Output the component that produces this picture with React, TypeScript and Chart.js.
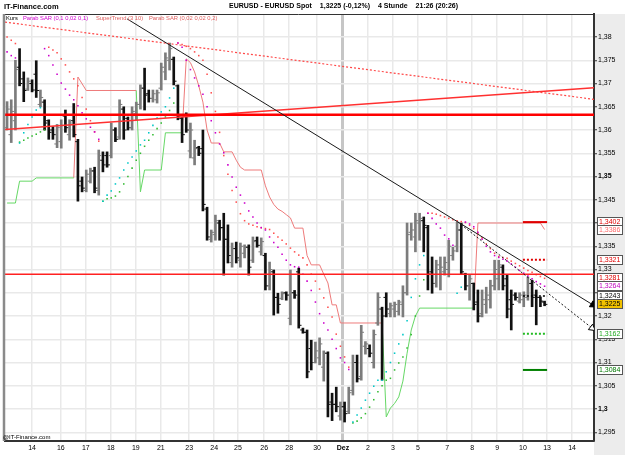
import React, { useEffect, useRef } from 'react';
import { Chart, registerables } from 'chart.js';

Chart.register(...registerables);

const FONT = '"Liberation Sans", Arial, Helvetica, sans-serif';

// ---------- axis ----------
const X_MIN = 0;
const X_MAX = 141.36;
const Y_MIN = 1.29312;
const Y_MAX = 1.38495;
const dayTickPos = [6.5, 13.4, 19.4, 25.4, 31.4, 37.4, 44.2, 50.2, 55.9, 62.2, 68.2, 74.9, 81.1, 87.1, 93.1, 99.1, 106.1, 112.1, 118.1, 124.3, 130.1, 136.1];
const dayTickLabels = ['14', '16', '17', '18', '19', '21', '23', '24', '25', '26', '28', '30', 'Dez', '2', '3', '5', '7', '8', '9', '10', '13', '14'];
const DEZ_INDEX = 12;
const yTickValues = [1.295, 1.3, 1.305, 1.31, 1.315, 1.32, 1.325, 1.33, 1.335, 1.34, 1.345, 1.35, 1.355, 1.36, 1.365, 1.37, 1.375, 1.38];
const yBoldTicks = [1.3, 1.35];

// ---------- 4h OHLC (EUR/USD) ----------
const barOpen = [
  1.3605, 1.3590, 1.3620, 1.3735, 1.3710, 1.3688, 1.3700, 1.3720, 1.3655, 1.3660,
  1.3620, 1.3600, 1.3570, 1.3575, 1.3630, 1.3590, 1.3620, 1.3575, 1.3490, 1.3470,
  1.3490, 1.3512, 1.3470, 1.3535, 1.3545, 1.3545, 1.3600, 1.3585, 1.3645, 1.3625,
  1.3605, 1.3635, 1.3655, 1.3690, 1.3678, 1.3668, 1.3665, 1.3690, 1.3725, 1.3750,
  1.3752, 1.3695, 1.3625, 1.3630, 1.3555, 1.3540, 1.3562, 1.3560, 1.3430, 1.3365,
  1.3375, 1.3400, 1.3390, 1.3365, 1.3315, 1.3345, 1.3320, 1.3335, 1.3348, 1.3320,
  1.3362, 1.3338, 1.3330, 1.3265, 1.3295, 1.3240, 1.3238, 1.3250, 1.3195, 1.3250,
  1.3295, 1.3170, 1.3165, 1.3130, 1.3100, 1.3110, 1.3090, 1.3120, 1.3015, 1.3010,
  1.2985, 1.3005, 1.2995, 1.3040, 1.3100, 1.3070, 1.3135, 1.3130, 1.3100, 1.3185,
  1.3215, 1.3240, 1.3205, 1.3215, 1.3210, 1.3225, 1.3250, 1.3380, 1.3370, 1.3400,
  1.3405, 1.3390, 1.3295, 1.3270, 1.3300, 1.3295, 1.3300, 1.3330, 1.3350, 1.3385,
  1.3290, 1.3265, 1.3270, 1.3230, 1.3205, 1.3225, 1.3235, 1.3265, 1.3280, 1.3305,
  1.3280, 1.3235, 1.3245, 1.3232, 1.3235, 1.3240, 1.3270, 1.3245, 1.3240, 1.3230,
];
const barHigh = [
  1.3661, 1.3665, 1.3750, 1.3775, 1.3725, 1.3712, 1.3708, 1.3749, 1.3686, 1.3665,
  1.3622, 1.3607, 1.3612, 1.3622, 1.3643, 1.3622, 1.3657, 1.3580, 1.3499, 1.3514,
  1.3518, 1.3520, 1.3557, 1.3553, 1.3553, 1.3615, 1.3605, 1.3665, 1.3650, 1.3628,
  1.3650, 1.3660, 1.3697, 1.3733, 1.3686, 1.3686, 1.3686, 1.3744, 1.3766, 1.3787,
  1.3757, 1.3697, 1.3628, 1.3637, 1.3615, 1.3578, 1.3565, 1.3600, 1.3434, 1.3385,
  1.3417, 1.3406, 1.3421, 1.3396, 1.3357, 1.3359, 1.3357, 1.3353, 1.3353, 1.3370,
  1.3370, 1.3368, 1.3335, 1.3316, 1.3299, 1.3249, 1.3252, 1.3252, 1.3299, 1.3255,
  1.3303, 1.3174, 1.3170, 1.3148, 1.3144, 1.3153, 1.3125, 1.3123, 1.3034, 1.3047,
  1.3015, 1.3015, 1.3047, 1.3116, 1.3116, 1.3180, 1.3145, 1.3138, 1.3170, 1.3250,
  1.3219, 1.3250, 1.3228, 1.3230, 1.3234, 1.3265, 1.3400, 1.3400, 1.3421, 1.3421,
  1.3413, 1.3395, 1.3327, 1.3320, 1.3327, 1.3327, 1.3363, 1.3348, 1.3402, 1.3400,
  1.3292, 1.3288, 1.3271, 1.3256, 1.3256, 1.3262, 1.3277, 1.3320, 1.3320, 1.3310,
  1.3288, 1.3256, 1.3250, 1.3250, 1.3252, 1.3284, 1.3277, 1.3256, 1.3241, 1.3232,
];
const barLow = [
  1.3600, 1.3573, 1.3600, 1.3695, 1.3661, 1.3685, 1.3682, 1.3670, 1.3650, 1.3600,
  1.3580, 1.3580, 1.3562, 1.3561, 1.3595, 1.3578, 1.3585, 1.3447, 1.3467, 1.3467,
  1.3486, 1.3465, 1.3460, 1.3510, 1.3520, 1.3540, 1.3575, 1.3580, 1.3580, 1.3600,
  1.3600, 1.3622, 1.3645, 1.3643, 1.3660, 1.3660, 1.3658, 1.3686, 1.3708, 1.3729,
  1.3697, 1.3622, 1.3573, 1.3595, 1.3540, 1.3525, 1.3545, 1.3426, 1.3363, 1.3359,
  1.3363, 1.3363, 1.3288, 1.3314, 1.3305, 1.3314, 1.3305, 1.3325, 1.3288, 1.3315,
  1.3348, 1.3331, 1.3256, 1.3256, 1.3202, 1.3206, 1.3235, 1.3234, 1.3181, 1.3238,
  1.3174, 1.3163, 1.3067, 1.3084, 1.3099, 1.3095, 1.3060, 1.2983, 1.2975, 1.2994,
  1.2976, 1.2972, 1.2990, 1.3030, 1.3058, 1.3062, 1.3118, 1.3112, 1.3088, 1.3180,
  1.3062, 1.3198, 1.3198, 1.3198, 1.3202, 1.3198, 1.3245, 1.3363, 1.3338, 1.3363,
  1.3338, 1.3256, 1.3249, 1.3262, 1.3256, 1.3288, 1.3284, 1.3320, 1.3338, 1.3290,
  1.3256, 1.3234, 1.3213, 1.3187, 1.3198, 1.3206, 1.3217, 1.3256, 1.3256, 1.3256,
  1.3196, 1.3170, 1.3234, 1.3228, 1.3220, 1.3234, 1.3220, 1.3181, 1.3220, 1.3222,
];
const barClose = [
  1.3645, 1.3640, 1.3730, 1.3700, 1.3685, 1.3705, 1.3686, 1.3685, 1.3670, 1.3615,
  1.3595, 1.3590, 1.3605, 1.3610, 1.3605, 1.3615, 1.3590, 1.3480, 1.3475, 1.3505,
  1.3512, 1.3475, 1.3545, 1.3525, 1.3525, 1.3600, 1.3580, 1.3655, 1.3600, 1.3605,
  1.3640, 1.3655, 1.3690, 1.3675, 1.3668, 1.3678, 1.3680, 1.3735, 1.3755, 1.3775,
  1.3705, 1.3630, 1.3590, 1.3600, 1.3600, 1.3560, 1.3550, 1.3440, 1.3370, 1.3380,
  1.3405, 1.3390, 1.3365, 1.3330, 1.3345, 1.3325, 1.3350, 1.3348, 1.3305, 1.3360,
  1.3352, 1.3360, 1.3265, 1.3300, 1.3240, 1.3225, 1.3248, 1.3245, 1.3250, 1.3245,
  1.3180, 1.3165, 1.3080, 1.3100, 1.3125, 1.3140, 1.3120, 1.3010, 1.3010, 1.3005,
  1.3005, 1.2990, 1.3035, 1.3100, 1.3065, 1.3165, 1.3140, 1.3120, 1.3160, 1.3240,
  1.3200, 1.3215, 1.3222, 1.3225, 1.3230, 1.3250, 1.3375, 1.3385, 1.3405, 1.3410,
  1.3395, 1.3290, 1.3270, 1.3310, 1.3305, 1.3315, 1.3350, 1.3340, 1.3385, 1.3295,
  1.3265, 1.3280, 1.3225, 1.3200, 1.3235, 1.3245, 1.3265, 1.3300, 1.3310, 1.3265,
  1.3215, 1.3225, 1.3240, 1.3245, 1.3245, 1.3270, 1.3240, 1.3240, 1.3232, 1.3225,
];

// ---------- Parabolic SAR (0,1 0,02 0,1) ----------
const sarFast = [
  1.3768, 1.3760, 1.3755, 1.3572, 1.3594, 1.3612, 1.3628, 1.3643, 1.3648, 1.3775,
  1.3760, 1.3740, 1.3720, 1.3701, 1.3688, 1.3675, 1.3665, 1.3652, 1.3637, 1.3624,
  1.3606, 1.3596, 1.3580, 1.3447, 1.3460, 1.3469, 1.3484, 1.3497, 1.3514, 1.3529,
  1.3542, 1.3555, 1.3568, 1.3578, 1.3594, 1.3610, 1.3626, 1.3639, 1.3650, 1.3669,
  1.3690, 1.3787, 1.3778, 1.3750, 1.3730, 1.3712, 1.3695, 1.3677, 1.3650, 1.3620,
  1.3594, 1.3570, 1.3551, 1.3525, 1.3499, 1.3477, 1.3460, 1.3443, 1.3426, 1.3413,
  1.3400, 1.3390, 1.3385, 1.3370, 1.3358, 1.3348, 1.3333, 1.3320, 1.3310, 1.3306,
  1.3305, 1.3290, 1.3275, 1.3255, 1.3230, 1.3205, 1.3185, 1.3170, 1.3150, 1.3130,
  1.3110, 1.3100, 1.3085, 1.2972, 1.2987, 1.3002, 1.3019, 1.3034, 1.3049, 1.3062,
  1.3062, 1.3080, 1.3100, 1.3120, 1.3140, 1.3160, 1.3190, 1.3240, 1.3280, 1.3310,
  1.3330, 1.3421, 1.3410, 1.3398, 1.3389, 1.3374, 1.3366, 1.3352, 1.3249, 1.3262,
  1.3402, 1.3398, 1.3392, 1.3380, 1.3365, 1.3350, 1.3338, 1.3330, 1.3326, 1.3322,
  1.3318, 1.3312, 1.3305, 1.3298, 1.3292, 1.3286, 1.3280, 1.3274, 1.3269, 1.3264,
];

// ---------- Parabolic SAR (0,02 0,02 0,2) ----------
const sarSlow = [
  1.3800, 1.3793, 1.3786, 1.3574, 1.3578, 1.3583, 1.3587, 1.3591, 1.3596, 1.3600,
  1.3778, 1.3772, 1.3766, 1.3753, 1.3740, 1.3725, 1.3710, 1.3695, 1.3670, 1.3645,
  1.3620, 1.3596, 1.3576, 1.3447, 1.3452, 1.3454, 1.3458, 1.3467, 1.3484, 1.3500,
  1.3518, 1.3535, 1.3550, 1.3565, 1.3578, 1.3590, 1.3603, 1.3615, 1.3628, 1.3642,
  1.3658, 1.3787, 1.3784, 1.3780, 1.3775, 1.3768, 1.3760, 1.3750, 1.3720, 1.3680,
  1.3640, 1.3595, 1.3545, 1.3505, 1.3470, 1.3445, 1.3420, 1.3405, 1.3398, 1.3395,
  1.3392, 1.3390, 1.3388, 1.3386, 1.3378, 1.3370, 1.3363, 1.3355, 1.3346, 1.3338,
  1.3331, 1.3325, 1.3310, 1.3290, 1.3275, 1.3258, 1.3239, 1.3219, 1.3198, 1.3161,
  1.3135, 1.3112, 1.3090, 1.2970, 1.2974, 1.2981, 1.2990, 1.3004, 1.3020, 1.3037,
  1.3050, 1.3062, 1.3066, 1.3084, 1.3099, 1.3112, 1.3131, 1.3160, 1.3200, 1.3243,
  1.3278, 1.3421, 1.3421, 1.3419, 1.3416, 1.3413, 1.3410, 1.3407, 1.3405, 1.3403,
  1.3401, 1.3395, 1.3388, 1.3378, 1.3368, 1.3355, 1.3345, 1.3335, 1.3328, 1.3326,
  1.3324, 1.3318, 1.3313, 1.3308, 1.3303, 1.3298, 1.3294, 1.3289, 1.3285, 1.3281,
];

// ---------- SuperTrend (3 10): [bar, value] corners ----------
const stGreen1 = [[0, 1.3443], [2, 1.3443], [3, 1.3490], [6, 1.3490], [7, 1.3497], [16, 1.3497]];
const stRed1 = [[16, 1.3497], [17, 1.3714], [19, 1.3685], [31, 1.3685]];
const stGreen2 = [[31, 1.3685], [32, 1.3467], [33, 1.3514], [37, 1.3514], [38, 1.3594], [42, 1.3594]];
const stRed2 = [
  [42, 1.3594], [43, 1.3753], [44, 1.3745], [45, 1.3725], [46, 1.3695], [47, 1.3660], [48, 1.3600],
  [49, 1.3572], [51, 1.3572], [52, 1.3553], [54, 1.3553], [55, 1.3535], [56, 1.3520], [57, 1.3514],
  [61, 1.3514], [62, 1.3480], [63, 1.3456], [64, 1.3440], [65, 1.3430], [66, 1.3425], [67, 1.3418],
  [68, 1.3411], [69, 1.3389], [71, 1.3389], [72, 1.3330], [73, 1.3310], [75, 1.3310], [76, 1.3290],
  [77, 1.3271], [78, 1.3224], [79, 1.3224], [80, 1.3185], [90, 1.3185],
];
const stGreen3 = [[90, 1.3185], [91, 1.2983], [92, 1.3002], [93, 1.3012], [94, 1.3026], [95, 1.3060], [96, 1.3120], [97, 1.3170], [98, 1.3200], [99, 1.3217], [112, 1.3217]];
const stRed3 = [[112, 1.3217], [113, 1.3400], [128, 1.3400], [129, 1.3386]];

// ---------- drawn lines ----------
const supportLine = [[0, 1.3601], [141.36, 1.3691]];
const resistanceDotted = [[0, 1.3832], [141.36, 1.3666]];
const blackTrend = [[29.3, 1.3839], [141.1, 1.3224]];
const blackTrendDotted = [[108.7, 1.3402], [140.9, 1.3174]];
const hLineMain = 1.3633;
const hLineSecond = 1.3290;
const levelSpan = [124.3, 130.1];
const levelRedSolid = 1.3402;
const levelRedDotted = 1.3321;
const levelBlackDotted = 1.3243;
const levelGreenDotted = 1.3162;
const levelGreenSolid = 1.3084;

// ---------- right-hand value labels ----------
const labelValues = [1.3402, 1.3386, 1.3321, 1.3281, 1.3264, 1.3243, 1.3225, 1.3162, 1.3084];
const labelColors = ['#e00000', '#ff6a6a', '#e00000', '#e00000', '#c000c0', '#000000', '#000000', '#22aa22', '#007700'];
const lastPriceValue = 1.3225;

// ---------- header texts ----------
const headerParts = ['EURUSD - EURUSD Spot', '1,3225 (-0,12%)', '4 Stunde', '21:26 (20:26)'];
const headerStartX = 229;
const legendItems = [
  { text: 'Kurs', x: 6, color: '#000000' },
  { text: 'Parab SAR (0,1 0,02 0,1)', x: 23, color: '#d000d0' },
  { text: 'SuperTrend (3 10)', x: 96, color: '#e06060' },
  { text: 'Parab SAR (0,02 0,02 0,2)', x: 149, color: '#e06060' },
];

const fmtTick = (v: number) => v.toFixed(4).replace(/0+$/, '').replace(/\.$/, '').replace('.', ',');
const fmtLabel = (v: number) => v.toFixed(4).replace('.', ',');

const bx = (i: number) => i + 0.5;
const pts = (arr: number[][]) => arr.map(([i, v]) => ({ x: bx(i), y: v }));
const raw = (arr: number[][]) => arr.map(([x, v]) => ({ x, y: v }));

export default function App() {
  const ref = useRef<HTMLCanvasElement | null>(null);

  useEffect(() => {
    document.body.style.margin = '0';
    const up = barClose.map((c, i) => c >= barOpen[i]);
    const barColors = up.map((u) => (u ? '#7c7c7c' : '#101010'));

    const lineDs = (data: any[], color: string, width: number, dash: number[] = []) => ({
      type: 'line',
      data,
      borderColor: color,
      borderWidth: width,
      borderDash: dash,
      pointRadius: 0,
      fill: false,
      tension: 0,
      spanGaps: false,
    });
    const hLine = (v: number, color: string, width: number, dash: number[] = []) =>
      lineDs([{ x: X_MIN, y: v }, { x: X_MAX, y: v }], color, width, dash);
    const segLine = (v: number, color: string, width: number, dash: number[] = []) =>
      lineDs([{ x: levelSpan[0], y: v }, { x: levelSpan[1], y: v }], color, width, dash);

    const dots = (vals: number[], aboveColor: string, belowColor: string) => ({
      type: 'line',
      data: vals.map((v, i) => ({ x: bx(i), y: v })),
      showLine: false,
      pointStyle: 'rect',
      pointRadius: 1.1,
      pointBorderWidth: 0,
      pointBackgroundColor: vals.map((v, i) => (v > barClose[i] ? aboveColor : belowColor)),
    });

    const tickDs = (vals: number[], off: number) => ({
      type: 'line',
      data: vals.map((v, i) => ({ x: bx(i) + off, y: v })),
      showLine: false,
      pointStyle: 'line',
      pointRadius: 1.4,
      pointBorderWidth: 1,
      pointBorderColor: barColors,
    });

    const arrow = (p: number[], rot: number, fill: string) => ({
      type: 'line',
      data: [{ x: p[0], y: p[1] }],
      showLine: false,
      pointStyle: 'triangle',
      pointRadius: 4,
      pointRotation: rot,
      pointBackgroundColor: fill,
      pointBorderColor: '#000',
      pointBorderWidth: 1,
    });

    const decor = {
      id: 'decor',
      beforeDraw(chart: any) {
        const { ctx, chartArea } = chart;
        ctx.save();
        ctx.fillStyle = '#ffffff';
        ctx.fillRect(0, 0, chart.width, chart.height);
        ctx.fillStyle = '#ececec';
        ctx.fillRect(chartArea.right, chartArea.top, chart.width - chartArea.right, chart.height - chartArea.top);
        ctx.restore();
      },
      afterDraw(chart: any) {
        const { ctx, chartArea } = chart;
        const ys = chart.scales.y;
        ctx.save();
        // frame
        ctx.strokeStyle = '#333';
        ctx.lineWidth = 1;
        ctx.beginPath();
        ctx.moveTo(3, chartArea.top + 0.5);
        ctx.lineTo(chartArea.right, chartArea.top + 0.5);
        ctx.stroke();
        ctx.strokeStyle = '#8a8a8a';
        ctx.lineWidth = 2.5;
        ctx.beginPath();
        ctx.moveTo(4, chartArea.top);
        ctx.lineTo(4, chartArea.bottom);
        ctx.stroke();

        // header
        ctx.textBaseline = 'middle';
        ctx.fillStyle = '#000';
        ctx.font = `bold 7.5px ${FONT}`;
        ctx.fillText('IT-Finance.com', 4, 6.5);
        ctx.font = `bold 7px ${FONT}`;
        let hx = headerStartX;
        headerParts.forEach((t) => {
          ctx.fillText(t, hx, 6.5);
          hx += ctx.measureText(t).width + 8;
        });

        // legend
        ctx.font = `5.8px ${FONT}`;
        legendItems.forEach((l) => {
          ctx.fillStyle = l.color;
          ctx.fillText(l.text, l.x, 18);
        });

        // watermark
        ctx.fillStyle = '#000';
        ctx.font = `6px ${FONT}`;
        ctx.fillText('@IT-Finance.com', 3, chartArea.bottom - 4);

        // value labels
        ctx.font = `7px ${FONT}`;
        labelValues.forEach((v, k) => {
          const y = Math.round(ys.getPixelForValue(v));
          const x0 = chartArea.right + 3;
          const w = 26;
          const h = 10;
          ctx.fillStyle = v === lastPriceValue ? '#f2c200' : '#ffffff';
          ctx.fillRect(x0, y - h / 2, w, h);
          ctx.strokeStyle = '#555';
          ctx.lineWidth = 1;
          ctx.strokeRect(x0 + 0.5, y - h / 2 + 0.5, w - 1, h - 1);
          ctx.fillStyle = labelColors[k];
          ctx.fillText(fmtLabel(v), x0 + 2, y + 0.5);
        });
        ctx.restore();
      },
    };

    const datasets: any[] = [
      arrow([blackTrend[1][0], blackTrend[1][1]], 121.6, '#000'),
      arrow([blackTrendDotted[1][0], blackTrendDotted[1][1]], 128, '#fff'),
      lineDs(raw(blackTrend), '#1a1a1a', 1),
      lineDs(raw(blackTrendDotted), '#1a1a1a', 1, [2, 2]),
      segLine(levelRedSolid, '#e00000', 2),
      segLine(levelRedDotted, '#e00000', 2, [2, 2]),
      segLine(levelBlackDotted, '#000', 1.5, [2, 2]),
      segLine(levelGreenDotted, '#22bb22', 2, [2, 2]),
      segLine(levelGreenSolid, '#008000', 2),
      hLine(hLineMain, '#ff0000', 2.5),
      hLine(hLineSecond, '#ff2020', 1.5),
      lineDs(raw(supportLine), '#ff3030', 1.5),
      lineDs(raw(resistanceDotted), '#ff4848', 1.2, [2, 2]),
      dots(sarFast, '#cc00cc', '#00c8c8'),
      dots(sarSlow, '#ff5050', '#33bb33'),
      tickDs(barOpen, -0.33),
      tickDs(barClose, 0.33),
      {
        type: 'bar',
        data: barHigh.map((h, i) => ({ x: bx(i), y: [barLow[i], h] })),
        backgroundColor: barColors,
        borderWidth: 0,
        barThickness: 2,
        grouped: false,
      },
      lineDs(pts(stGreen1), '#66d866', 1),
      lineDs(pts(stGreen2), '#66d866', 1),
      lineDs(pts(stGreen3), '#66d866', 1),
      lineDs(pts(stRed1), '#ee7b7b', 1),
      lineDs(pts(stRed2), '#ee7b7b', 1),
      lineDs(pts(stRed3), '#ee7b7b', 1),
    ];

    const chart = new Chart(ref.current as HTMLCanvasElement, {
      type: 'bar',
      data: { datasets },
      plugins: [decor],
      options: {
        responsive: false,
        animation: false,
        events: [],
        devicePixelRatio: 1,
        layout: { padding: { left: 5, top: 14, right: 0, bottom: 0 } },
        plugins: { legend: { display: false }, tooltip: { enabled: false }, title: { display: false } },
        scales: {
          x: {
            type: 'linear',
            min: X_MIN,
            max: X_MAX,
            offset: false,
            grid: {
              offset: false,
              drawTicks: false,
              color: (c: any) => (c.index === DEZ_INDEX ? '#c6c6c6' : '#e9e9e9'),
              lineWidth: (c: any) => (c.index === DEZ_INDEX ? 3 : 1.5),
            },
            border: { display: true, color: '#333', width: 2 },
            ticks: {
              autoSkip: false,
              maxRotation: 0,
              minRotation: 0,
              padding: 3,
              color: '#000',
              font: (c: any) => ({ family: FONT, size: 7, weight: c.index === DEZ_INDEX ? 'bold' : 'normal' }),
              callback: (_v: any, i: number) => dayTickLabels[i],
            },
            afterBuildTicks: (s: any) => {
              s.ticks = dayTickPos.map((v) => ({ value: v }));
            },
            afterFit: (s: any) => {
              s.height = 14;
            },
          },
          y: {
            type: 'linear',
            position: 'right',
            min: Y_MIN,
            max: Y_MAX,
            grid: { color: '#e9e9e9', lineWidth: 1.5, tickLength: 3, tickColor: '#333', tickWidth: 1 },
            border: { display: true, color: '#333', width: 2 },
            ticks: {
              padding: 1,
              color: '#000',
              font: (c: any) => ({
                family: FONT,
                size: 7,
                weight: c.tick && yBoldTicks.some((b) => Math.abs(b - c.tick.value) < 1e-7) ? 'bold' : 'normal',
              }),
              callback: (v: any) => fmtTick(Number(v)),
            },
            afterBuildTicks: (s: any) => {
              s.ticks = yTickValues.map((v) => ({ value: v }));
            },
            afterFit: (s: any) => {
              s.width = 31;
            },
          },
        },
      } as any,
    } as any);

    return () => chart.destroy();
  }, []);

  return (
    <div style={{ width: 625, height: 455, position: 'relative' }}>
      <canvas ref={ref} width={625} height={455} style={{ width: 625, height: 455, display: 'block' }} />
    </div>
  );
}
